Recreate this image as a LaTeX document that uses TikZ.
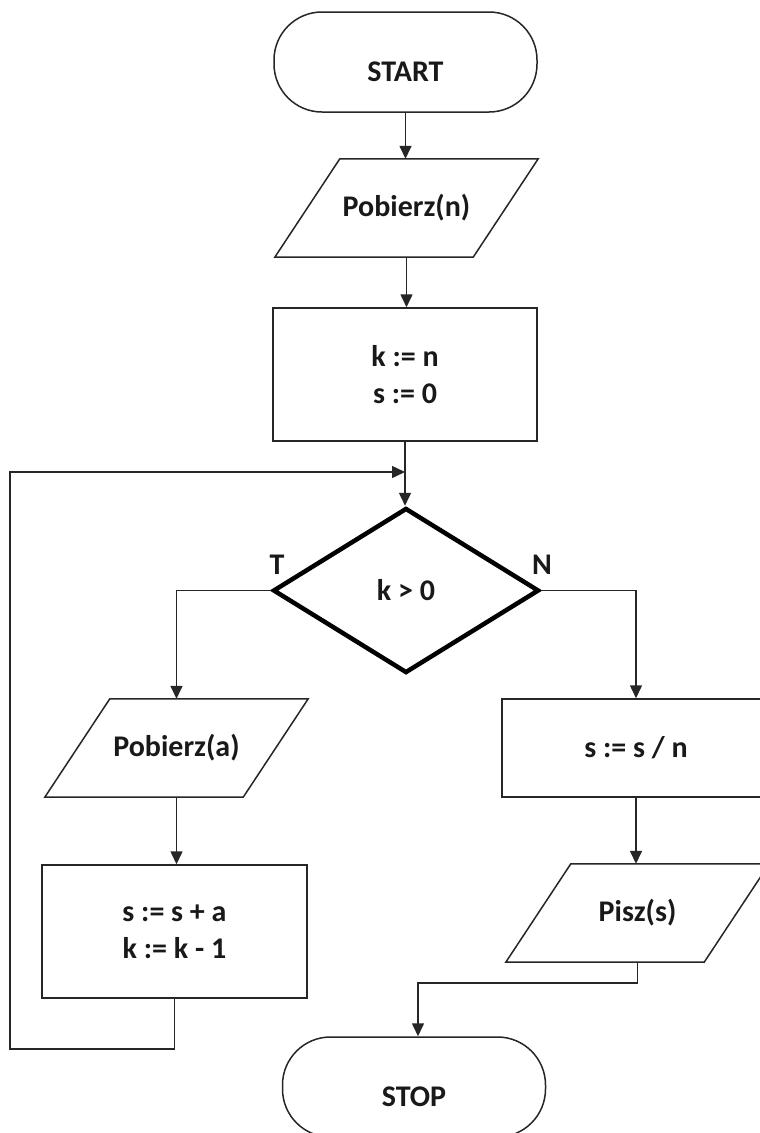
\documentclass[tikz,border=0pt]{standalone}
\usepackage{fontspec}
\setmainfont{Carlito}
\usetikzlibrary{arrows.meta,shapes.geometric,calc}
\newcommand\drawio[1]{\draw[line] ([xshift=65pt]#1.north west) -- (#1.north east) -- ([xshift=-65pt]#1.south east) -- (#1.south west) -- cycle;}
\newcommand\termtxt[1]{\raisebox{-19pt}[0pt][0pt]{#1}}
\begin{document}
\begin{tikzpicture}[x=1pt,y=-1pt,
 line/.style={draw=black!85, line width=1.5pt},
 arr/.style={line, -{Triangle[length=13pt,width=12pt]}},
 txt/.style={font=\fontsize{30}{37}\selectfont\bfseries, text=black!90, align=center},
 term/.style={rectangle, rounded corners=48pt, line, txt, minimum width=263pt, minimum height=100pt, inner sep=0pt},
 proc/.style={rectangle, line, txt, inner sep=0pt},
 io/.style={rectangle, txt, inner sep=0pt, minimum width=263pt, minimum height=98pt},
 dec/.style={diamond, draw=black, line width=4.5pt, txt, inner sep=0pt, minimum width=266pt, minimum height=165pt},
 lbl/.style={txt}
]
\path[use as bounding box, clip] (0,0) rectangle (760,1133);
\fill[white] (0,0) rectangle (760,1133);

\node[term] (start) at (405.5,62) {\termtxt{START}};
\node[io] (in1) at (406.5,208) {Pobierz(n)};
\drawio{in1}
\node[proc, minimum width=264pt, minimum height=133pt] (init) at (405,374.5) {k := n\\s := 0};
\node[dec] (cond) at (406,590.5) {k > 0};
\node[lbl] (lblT) at (277,565) {T};
\node[lbl] (lblN) at (542,565) {N};
\node[io] (in2) at (176.5,748) {Pobierz(a)};
\drawio{in2}
\node[proc, minimum width=265pt, minimum height=133pt] (body) at (174.5,931.5) {s := s + a\\k := k - 1};
\node[proc, minimum width=268pt, minimum height=98pt] (calc) at (636,748) {s := s / n};
\node[io] (out) at (637.5,913) {Pisz(s)};
\drawio{out}
\node[term] (stop) at (414,1087) {\termtxt{STOP}};

\coordinate (loopin) at (405,472);
\coordinate (loopbot) at (10,1049);

\draw[arr] (start.south) -- (start.south |- in1.north);
\draw[arr] (in1.south) -- (in1.south |- init.north);
\draw[arr] (init.south) -- (init.south |- cond.north);
\draw[arr] (body.south) |- (loopbot) |- (loopin);
\draw[arr] (cond.west) -| (in2.north);
\draw[arr] (cond.east) -| (calc.north);
\draw[arr] (in2.south) -- (in2.south |- body.north);
\draw[arr] (calc.south) -- (calc.south |- out.north);
\draw[arr] (out.south) -- ++(0,21) -| ([xshift=4pt]stop.north);
\end{tikzpicture}
\end{document}
